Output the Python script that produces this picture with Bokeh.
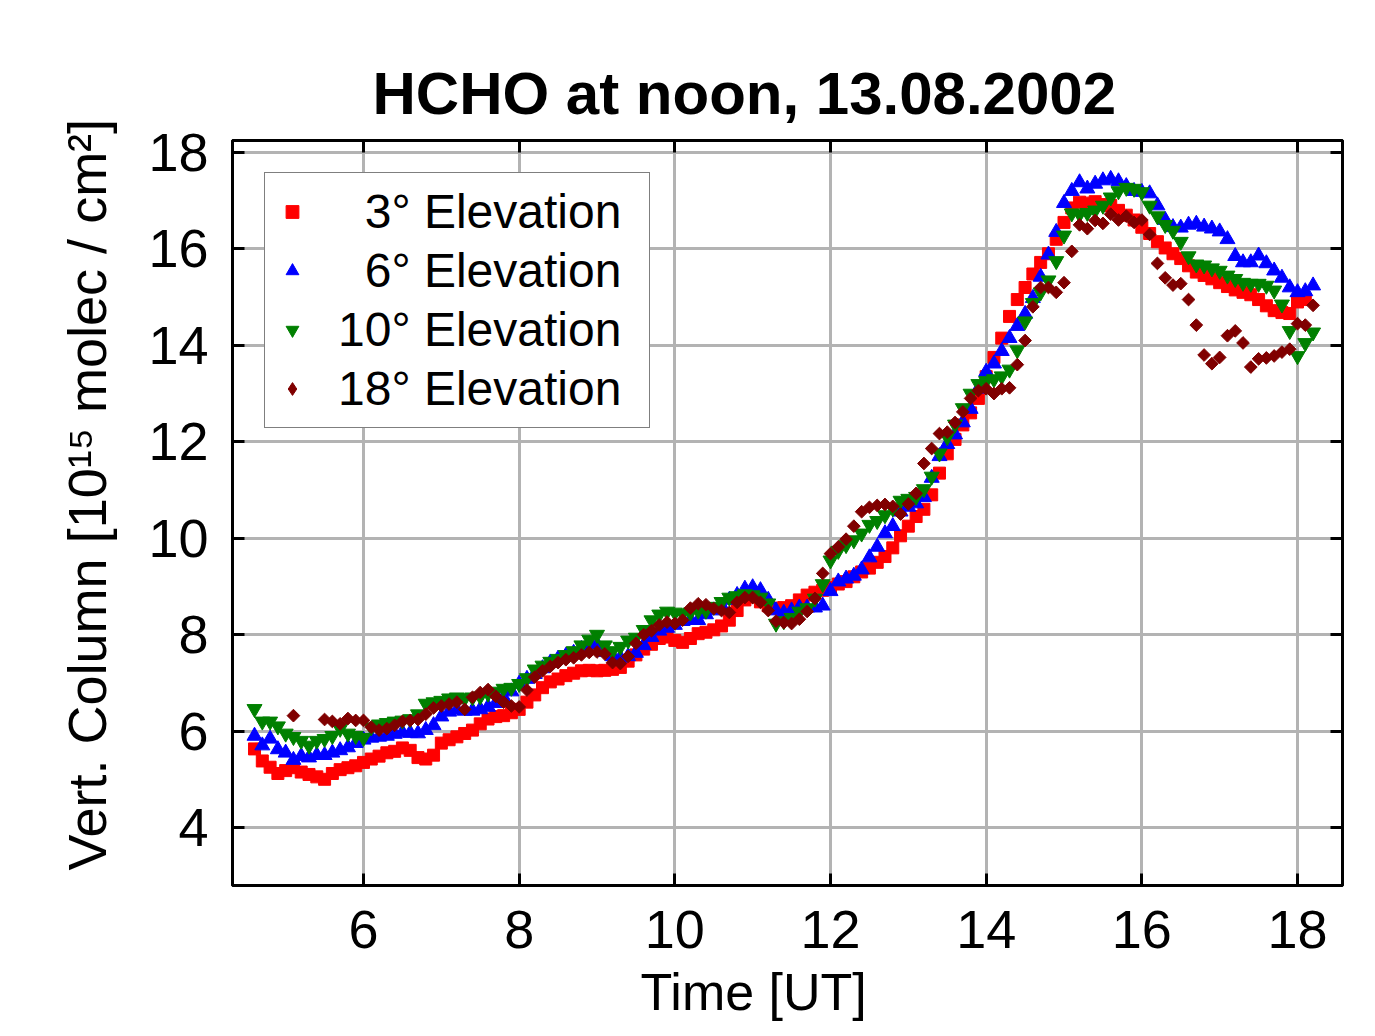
import math
from bokeh.plotting import figure
from bokeh.models import (Range1d, FixedTicker, LinearAxis, Legend, LegendItem,
                          Title, ColumnDataSource, CustomJSTickFormatter)
from bokeh.embed import file_html
from bokeh.resources import INLINE

nan = float("nan")

# ---- data ----
time_start = 4.6   # UT hours, first sample
time_step = 0.1    # UT hours between samples

x_ticks = [6, 8, 10, 12, 14, 16, 18]
y_ticks = [4, 6, 8, 10, 12, 14, 16, 18]

series_labels = ["\u20073° Elevation", "\u20076° Elevation", "10° Elevation", "18° Elevation"]

elev_3 = [
    5.63, 5.38, 5.25, 5.12, 5.18, 5.24, 5.15, 5.10, 5.05, 5.00,
    5.12, 5.20, 5.24, 5.28, 5.35, 5.42, 5.48, 5.55, 5.58, 5.65,
    5.60, 5.45, 5.42, 5.50, 5.75, 5.82, 5.88, 5.95, 6.02, 6.15,
    6.25, 6.30, 6.32, 6.38, 6.45, 6.60, 6.75, 6.90, 7.02, 7.08,
    7.15, 7.20, 7.25, 7.26, 7.25, 7.26, 7.28, 7.32, 7.45, 7.58,
    7.70, 7.80, 7.92, 7.95, 7.88, 7.84, 7.92, 8.02, 8.05, 8.10,
    8.18, 8.30, 8.50, 8.72, 8.78, 8.68, 8.60, 8.55, 8.56, 8.60,
    8.72, 8.82, 8.88, 8.92, 8.98, 9.05, 9.10, 9.20, 9.30, 9.38,
    9.50, 9.62, 9.80, 10.05, 10.25, 10.45, 10.60, 10.90, 11.35, 11.75,
    12.05, 12.35, 12.60, 12.90, 13.35, 13.75, 14.15, 14.60, 14.95, 15.20,
    15.48, 15.72, 15.90, 16.20, 16.55, 16.85, 16.97, 16.95, 16.98, 16.92,
    16.90, 16.80, 16.70, 16.60, 16.45, 16.32, 16.15, 16.02, 15.90, 15.80,
    15.65, 15.52, 15.45, 15.38, 15.30, 15.22, 15.15, 15.10, 15.05, 14.95,
    14.82, 14.72, 14.68, 14.66, 14.90, 14.95, nan,
]

elev_6 = [
    5.90, 5.70, 5.84, 5.62, 5.55, 5.40, 5.48, 5.45, 5.50, 5.50,
    5.55, 5.60, 5.66, 5.75, 5.82, 5.86, 5.88, 5.90, 5.94, 5.97,
    5.96, 5.95, 6.02, 6.12, 6.30, 6.40, 6.44, 6.42, 6.42, 6.45,
    6.50, 6.58, 6.70, 6.82, 6.98, 7.08, 7.18, 7.30, 7.42, 7.50,
    7.56, 7.62, 7.70, 7.80, 7.80, 7.64, 7.55, 7.52, 7.55, 7.62,
    7.78, 7.95, 8.08, 8.14, 8.20, 8.28, 8.30, 8.30, 8.42, 8.50,
    8.60, 8.72, 8.82, 8.95, 8.98, 8.92, 8.72, 8.50, 8.45, 8.50,
    8.56, 8.56, 8.56, 8.60, 8.90, 9.10, 9.16, 9.22, 9.35, 9.60,
    9.82, 10.10, 10.25, 10.55, 10.65, 10.72, 10.85, 11.25, 11.70, 11.95,
    12.15, 12.40, 12.68, 13.10, 13.45, 13.62, 13.88, 14.15, 14.40, 14.65,
    14.98, 15.42, 15.88, 16.35, 16.95, 17.20, 17.38, 17.25, 17.35, 17.42,
    17.45, 17.40, 17.30, 17.20, 17.18, 17.15, 16.90, 16.60, 16.45, 16.44,
    16.50, 16.52, 16.46, 16.42, 16.36, 16.20, 15.85, 15.72, 15.72, 15.86,
    15.70, 15.55, 15.40, 15.20, 15.10, 15.12, 15.24,
]

elev_10 = [
    6.46, 6.20, 6.20, 6.10, 5.95, 5.88, 5.80, 5.70, 5.80, 5.84,
    5.90, 6.05, 5.95, 5.90, 5.86, 6.08, 6.14, 6.17, 6.20, 6.22,
    6.25, 6.35, 6.57, 6.60, 6.63, 6.68, 6.70, 6.68, 6.70, 6.72,
    6.78, 6.82, 6.88, 6.90, 6.98, 7.10, 7.28, 7.36, 7.44, 7.50,
    7.58, 7.66, 7.78, 7.90, 8.00, 7.78, 7.66, 7.75, 7.88, 7.94,
    8.10, 8.30, 8.42, 8.48, 8.46, 8.43, 8.46, 8.50, 8.50, 8.58,
    8.68, 8.77, 8.80, 8.84, 8.82, 8.77, 8.65, 8.23, 8.28, 8.35,
    8.48, 8.55, 8.75, 9.05, 9.54, 9.74, 9.86, 9.96, 10.10, 10.28,
    10.36, 10.48, 10.62, 10.78, 10.82, 10.86, 11.02, 11.28, 11.76, 12.10,
    12.36, 12.70, 13.00, 13.20, 13.26, 13.30, 13.36, 13.50, 13.90, 14.50,
    14.88, 15.10, 15.35, 15.75, 16.28, 16.74, 16.72, 16.75, 16.80, 16.90,
    17.07, 17.20, 17.27, 17.25, 17.18, 16.90, 16.68, 16.50, 16.38, 16.15,
    15.85, 15.68, 15.66, 15.60, 15.55, 15.45, 15.38, 15.30, 15.28, 15.28,
    15.24, 15.14, 14.85, 14.30, 13.78, 14.05, 14.27,
]

elev_18 = [
    nan, nan, nan, nan, nan, 6.32, nan, nan, nan, 6.24,
    6.20, 6.15, 6.26, 6.22, 6.22, 6.08, 6.02, 6.05, 6.12, 6.20,
    6.22, 6.24, 6.35, 6.48, 6.52, 6.56, 6.60, 6.45, 6.70, 6.80,
    6.86, 6.72, 6.60, 6.52, 6.50, 6.85, 7.12, 7.25, 7.34, 7.42,
    7.48, 7.52, 7.58, 7.63, 7.64, 7.60, 7.42, 7.40, 7.55, 7.82,
    8.00, 8.08, 8.20, 8.26, 8.23, 8.30, 8.55, 8.64, 8.62, 8.54,
    8.50, 8.46, 8.67, 8.77, 8.77, 8.67, 8.50, 8.28, 8.25, 8.23,
    8.32, 8.48, 8.75, 9.27, 9.68, 9.82, 9.98, 10.25, 10.55, 10.64,
    10.68, 10.70, 10.66, 10.50, 10.71, 10.93, 11.55, 11.86, 12.17, 12.20,
    12.40, 12.62, 12.90, 13.06, 13.10, 13.00, 13.10, 13.12, 13.60, 14.10,
    14.80, 15.20, 15.20, 15.10, 15.30, 15.95, 16.50, 16.42, 16.59, 16.53,
    16.72, 16.60, 16.68, 16.55, 16.60, 16.30, 15.70, 15.40, 15.25, 15.28,
    14.95, 14.42, 13.80, 13.62, 13.75, 14.20, 14.30, 14.05, 13.55, 13.72,
    13.74, 13.78, 13.86, 13.92, 14.45, 14.42, 14.83,
]

time_ut = [round(time_start + time_step * i, 2) for i in range(len(elev_3))]

FONT = "Liberation Sans"

p = figure(width=1367, height=1036, output_backend="svg", toolbar_location=None,
           x_range=Range1d(4.317, 18.578), y_range=Range1d(2.797, 18.249),
           min_border_left=232, min_border_right=25, min_border_top=140,
           min_border_bottom=151)
p.background_fill_color = "white"
p.border_fill_color = "white"
p.outline_line_color = "black"
p.outline_line_width = 3

for ax, ticks in ((p.xaxis[0], x_ticks), (p.yaxis[0], y_ticks)):
    ax.ticker = FixedTicker(ticks=ticks)
    ax.axis_line_width = 3
    ax.axis_line_color = "black"
    ax.major_tick_in = 12
    ax.major_tick_out = 0
    ax.major_tick_line_width = 3
    ax.minor_tick_in = 0
    ax.minor_tick_out = 0
    ax.major_label_text_font = FONT
    ax.major_label_text_font_size = "54px"
    ax.major_label_text_color = "black"
p.xaxis[0].major_label_standoff = 25
p.yaxis[0].major_label_standoff = 24

for side, ticks in (("right", y_ticks), ("above", x_ticks)):
    ax = LinearAxis(ticker=FixedTicker(ticks=ticks),
                    formatter=CustomJSTickFormatter(code="return ''"),
                    axis_line_width=3, axis_line_color="black",
                    major_tick_in=12, major_tick_out=0, major_tick_line_width=3,
                    minor_tick_in=0, minor_tick_out=0,
                    major_label_text_font_size="1px", major_label_standoff=0)
    p.add_layout(ax, side)

p.xgrid.ticker = FixedTicker(ticks=x_ticks)
p.ygrid.ticker = FixedTicker(ticks=y_ticks)
for g in (p.xgrid[0], p.ygrid[0]):
    g.grid_line_color = "#b3b3b3"
    g.grid_line_width = 3

r3 = p.scatter(x="t", y="v", source=ColumnDataSource(dict(t=time_ut, v=elev_3)),
               marker="square", size=12, fill_color="#ff0000", line_color="#ff0000")
r6 = p.scatter(x="t", y="v", source=ColumnDataSource(dict(t=time_ut, v=elev_6)),
               marker="triangle", size=15, fill_color="#0000ff", line_color="#0000ff")
r10 = p.scatter(x="t", y="v", source=ColumnDataSource(dict(t=time_ut, v=elev_10)),
                marker="inverted_triangle", size=15, fill_color="#008000", line_color="#008000")
r18 = p.scatter(x="t", y="v", source=ColumnDataSource(dict(t=time_ut, v=elev_18)),
                marker="square", angle=math.pi / 4, size=9,
                fill_color="#800000", line_color="#800000")
# legend swatch for the 18° series (a diamond, as in the reference key); holds no visible point
r18_key = p.scatter(x="t", y="v", source=ColumnDataSource(dict(t=[nan], v=[nan])),
                    marker="diamond", size=12, fill_color="#800000", line_color="#800000")

legend = Legend(items=[LegendItem(label=series_labels[0], renderers=[r3]),
                       LegendItem(label=series_labels[1], renderers=[r6]),
                       LegendItem(label=series_labels[2], renderers=[r10]),
                       LegendItem(label=series_labels[3], renderers=[r18_key])],
                location="top_left", margin=32, padding=11, spacing=4,
                glyph_width=32, glyph_height=55, label_height=55, label_width=300,
                label_standoff=30, label_text_font=FONT, label_text_font_size="48px",
                label_text_color="black",
                border_line_color="black", border_line_width=1.5,
                background_fill_color="white", background_fill_alpha=1.0)
p.add_layout(legend)

p.title = Title(text="HCHO at noon, 13.08.2002", align="left", offset=140,
                text_font=FONT, text_font_style="bold", text_font_size="60px",
                text_color="black", standoff=28)
p.add_layout(Title(text="Time [UT]", align="left", offset=408,
                   text_font=FONT, text_font_style="normal", text_font_size="52px",
                   text_color="black", standoff=20), "below")
p.add_layout(Title(text="Vert. Column [10\u00b9\u2075  molec / cm\u00b2]",
                   align="left", offset=15,
                   text_font=FONT, text_font_style="normal", text_font_size="54px",
                   text_color="black", standoff=58), "left")

open("out.html", "w").write(file_html(p, INLINE))
